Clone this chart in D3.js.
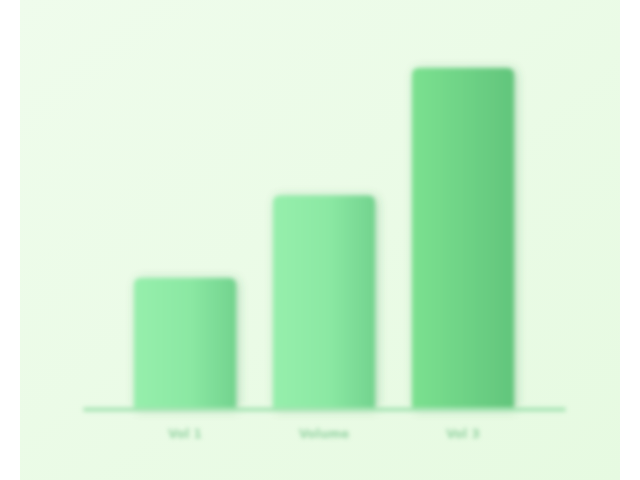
<!DOCTYPE html>
<html>
<head>
<meta charset="utf-8">
<script src="https://cdn.jsdelivr.net/npm/d3@7"></script>
<style>
  body { margin: 0; background: #ffffff; }
  svg { display: block; }
</style>
</head>
<body>
<svg id="canvas"></svg>
<script>
// chart data
const categories = ["Vol 1", "Volume", "Vol 3"];
const values = [38, 62, 99];
const yDomain = [0, 110];

const svgWidth = 640;
const svgHeight = 480;
const baseY = 409;

const svg = d3.select("#canvas")
    .attr("width", svgWidth)
    .attr("height", svgHeight);

const defs = svg.append("defs");

// panel background
const bgGrad = defs.append("linearGradient")
    .attr("id", "bgGrad")
    .attr("x1", "0").attr("y1", "0").attr("x2", "1").attr("y2", "1");
bgGrad.append("stop").attr("offset", "0%").attr("stop-color", "#effcec");
bgGrad.append("stop").attr("offset", "100%").attr("stop-color", "#e6fae1");

const barGrad = defs.append("linearGradient")
    .attr("id", "barGrad")
    .attr("x1", "0").attr("y1", "0").attr("x2", "1").attr("y2", "0");
barGrad.append("stop").attr("offset", "0%").attr("stop-color", "#96efac");
barGrad.append("stop").attr("offset", "55%").attr("stop-color", "#8be8a3");
barGrad.append("stop").attr("offset", "100%").attr("stop-color", "#72d38e");

const barGradDark = defs.append("linearGradient")
    .attr("id", "barGradDark")
    .attr("x1", "0").attr("y1", "0").attr("x2", "1").attr("y2", "0");
barGradDark.append("stop").attr("offset", "0%").attr("stop-color", "#7be190");
barGradDark.append("stop").attr("offset", "100%").attr("stop-color", "#62c57c");

const shadow = defs.append("filter")
    .attr("id", "shadow")
    .attr("x", "-30%").attr("y", "-30%").attr("width", "160%").attr("height", "160%");
shadow.append("feDropShadow")
    .attr("dx", 2).attr("dy", 1)
    .attr("stdDeviation", 4)
    .attr("flood-color", "#3a9455")
    .attr("flood-opacity", 0.4);

const soft = defs.append("filter").attr("id", "soft");
soft.append("feGaussianBlur").attr("stdDeviation", 2.2);

svg.append("rect")
    .attr("x", 20).attr("y", 0)
    .attr("width", 600).attr("height", svgHeight)
    .attr("fill", "url(#bgGrad)");

const chart = svg.append("g").attr("filter", "url(#soft)");

const xScale = d3.scaleBand()
    .domain(categories)
    .range([83, 565])
    .paddingInner(0.266)
    .paddingOuter(0.367);

const yScale = d3.scaleLinear()
    .domain(yDomain)
    .range([baseY, 30]);

// bars
chart.append("g")
    .selectAll("path")
    .data(values)
    .enter()
    .append("path")
    .attr("d", (d, i) => {
        const x = xScale(categories[i]);
        const w = xScale.bandwidth();
        const y = yScale(d);
        const r = 7;
        return "M" + x + "," + baseY +
            "V" + (y + r) +
            "Q" + x + "," + y + " " + (x + r) + "," + y +
            "H" + (x + w - r) +
            "Q" + (x + w) + "," + y + " " + (x + w) + "," + (y + r) +
            "V" + baseY + "Z";
    })
    .attr("fill", (d, i) => i === values.length - 1 ? "url(#barGradDark)" : "url(#barGrad)")
    .attr("filter", "url(#shadow)");

// baseline axis
const xAxis = d3.axisBottom(xScale).tickSize(0).tickPadding(20);
const axisG = chart.append("g")
    .attr("transform", "translate(0," + baseY + ")")
    .call(xAxis);
axisG.select(".domain")
    .attr("stroke", "#a6e4b3")
    .attr("stroke-width", 4);
axisG.selectAll("text")
    .style("font-family", "DejaVu Sans")
    .style("font-size", "12px")
    .style("font-weight", "bold")
    .attr("fill", "#96d4a4");
</script>
</body>
</html>
